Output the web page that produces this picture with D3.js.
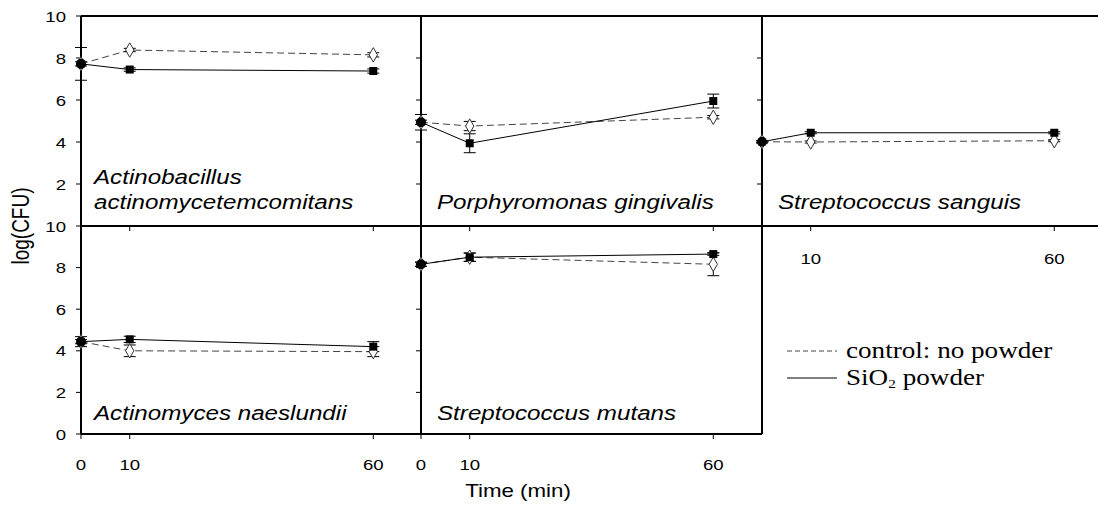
<!DOCTYPE html>
<html>
<head>
<meta charset="utf-8">
<script src="https://cdn.jsdelivr.net/npm/d3@7"></script>
<style>
  body { margin: 0; background: #fff; }
</style>
</head>
<body>
<div id="chart"></div>
<script>
// time points (min)
var times = [0, 10, 60];
// panel names (row-major: top row, then bottom row)
var species = [
  ["Actinobacillus", "actinomycetemcomitans"],
  ["Porphyromonas gingivalis"],
  ["Streptococcus sanguis"],
  ["Actinomyces naeslundii"],
  ["Streptococcus mutans"]
];
// control: no powder
var controlMean = [
  [7.72, 8.38, 8.15],
  [4.94, 4.76, 5.18],
  [4.01, 4.00, 4.06],
  [4.44, 4.00, 3.96],
  [8.16, 8.50, 8.16]
];
var controlErr = [
  [0.78, 0.08, 0.10],
  [0.37, 0.22, 0.08],
  [0.05, 0.05, 0.05],
  [0.24, 0.28, 0.24],
  [0.10, 0.20, 0.55]
];
// SiO2 powder
var silicaMean = [
  [7.72, 7.45, 7.38],
  [4.94, 3.94, 5.95],
  [4.01, 4.44, 4.44],
  [4.44, 4.55, 4.20],
  [8.16, 8.50, 8.65]
];
var silicaErr = [
  [0.10, 0.08, 0.10],
  [0.10, 0.45, 0.33],
  [0.05, 0.05, 0.05],
  [0.10, 0.15, 0.24],
  [0.10, 0.20, 0.06]
];
var yTicks = [0, 2, 4, 6, 8, 10];
var xTicks = [0, 10, 60];

var W = 1098, H = 505;
var colX = [81, 421, 762];
var rowY = [[16, 226], [226, 434]];
var panelW = 341;
var sans = "'Liberation Sans', Arial, sans-serif";
var serif = "'Liberation Serif', 'Times New Roman', serif";
var stretch = 1.24; // the picture is wider than it is tall

var svg = d3.select("#chart").append("svg")
  .attr("width", W).attr("height", H);

var xScale = d3.scaleLinear().domain([0, 70]).range([0, panelW]);

function yScaleFor(row) {
  return d3.scaleLinear().domain([0, 10]).range([rowY[row][1], rowY[row][0]]);
}

// text drawn with a horizontal stretch around its anchor
function label(parent, x, y, txt, size, anchor) {
  return parent.append("text")
    .attr("transform", "translate(" + x + "," + y + ") scale(" + stretch + ",1)")
    .attr("text-anchor", anchor || "start")
    .style("font-family", sans).style("font-size", size + "px")
    .text(txt);
}

// panel layout: [col,row]
var layout = [[0, 0], [1, 0], [2, 0], [0, 1], [1, 1]];

// y ticks on each panel left edge
layout.forEach(function (p, i) {
  var row = p[1], x0 = colX[p[0]];
  var y = yScaleFor(row);
  var ticks = yTicks.filter(function (t) { return !(row === 0 && t === 0); });
  svg.append("g").selectAll("line").data(ticks).enter().append("line")
    .attr("x1", x0 - 5).attr("x2", x0)
    .attr("y1", function (d) { return y(d); }).attr("y2", function (d) { return y(d); })
    .attr("stroke", "#000").attr("stroke-width", 1);
  if (p[0] === 0) {
    ticks.forEach(function (d) {
      label(svg, 66, y(d) + 5.5, d, 15, "end");
    });
  }
});

// x ticks
layout.forEach(function (p) {
  var x0 = colX[p[0]], yb = rowY[p[1]][1];
  var tks = p[1] === 0 ? xTicks.slice(1) : xTicks;
  svg.append("g").selectAll("line").data(tks).enter().append("line")
    .attr("x1", function (d) { return x0 + xScale(d); })
    .attr("x2", function (d) { return x0 + xScale(d); })
    .attr("y1", yb).attr("y2", yb + 5)
    .attr("stroke", "#000").attr("stroke-width", 1);
  if (p[1] === 1 || p[0] === 2) {
    var ly = p[1] === 1 ? 470 : 264;
    tks.forEach(function (d) {
      label(svg, x0 + xScale(d), ly, d, 15, "middle");
    });
  }
});

// frame lines
var frame = svg.append("g").attr("stroke", "#000").attr("stroke-width", 2).attr("fill", "none");
frame.append("line").attr("x1", 81).attr("x2", W).attr("y1", 16).attr("y2", 16);
frame.append("line").attr("x1", 81).attr("x2", W).attr("y1", 226).attr("y2", 226);
frame.append("line").attr("x1", 81).attr("x2", 762).attr("y1", 434).attr("y2", 434);
colX.forEach(function (x) {
  frame.append("line").attr("x1", x).attr("x2", x).attr("y1", 16).attr("y2", 434);
});

// series
var diamond = d3.symbol().type(d3.symbolDiamond).size(60);
var square = d3.symbol().type(d3.symbolSquare).size(64);
var circle = d3.symbol().type(d3.symbolCircle).size(80);

layout.forEach(function (p, i) {
  var x0 = colX[p[0]];
  var y = yScaleFor(p[1]);
  var g = svg.append("g").attr("transform", "translate(" + x0 + ",0)");
  var line = d3.line().x(function (d) { return xScale(d[0]); }).y(function (d) { return y(d[1]); });

  var ctrl = times.map(function (t, j) { return [t, controlMean[i][j], controlErr[i][j]]; });
  var sio = times.map(function (t, j) { return [t, silicaMean[i][j], silicaErr[i][j]]; });

  g.append("path").datum(ctrl).attr("d", line)
    .attr("fill", "none").attr("stroke", "#444").attr("stroke-width", 1)
    .attr("stroke-dasharray", "7,4");
  g.append("path").datum(sio).attr("d", line)
    .attr("fill", "none").attr("stroke", "#000").attr("stroke-width", 1);

  [ctrl, sio].forEach(function (s) {
    var eb = g.append("g").attr("stroke", "#000").attr("stroke-width", 1);
    s.forEach(function (d) {
      var cx = xScale(d[0]), lo = y(d[1] - d[2]), hi = y(d[1] + d[2]);
      eb.append("line").attr("x1", cx).attr("x2", cx).attr("y1", lo).attr("y2", hi);
      eb.append("line").attr("x1", cx - 6).attr("x2", cx + 6).attr("y1", lo).attr("y2", lo);
      eb.append("line").attr("x1", cx - 6).attr("x2", cx + 6).attr("y1", hi).attr("y2", hi);
    });
  });

  g.selectAll(".ctrl").data(ctrl).enter().append("path")
    .attr("transform", function (d) { return "translate(" + xScale(d[0]) + "," + y(d[1]) + ")"; })
    .attr("d", diamond).attr("fill", "#fff").attr("stroke", "#333").attr("stroke-width", 1);
  g.selectAll(".sio").data(sio).enter().append("path")
    .attr("transform", function (d) { return "translate(" + xScale(d[0]) + "," + y(d[1]) + ")"; })
    .attr("d", function (d) { return d[0] === 0 ? circle() : square(); })
    .attr("fill", "#000");

  // species label
  var names = species[i];
  var baseY = p[1] === 0 ? 209 : 420;
  names.forEach(function (n, k) {
    label(svg, x0 + (p[0] === 0 ? 13 : 16), baseY - (names.length - 1 - k) * 25, n, 19.5)
      .style("font-style", "italic");
  });
});

// axis titles
svg.append("text").attr("transform", "translate(29,226) rotate(-90) scale(1," + stretch + ")")
  .attr("text-anchor", "middle").style("font-family", sans).style("font-size", "19px")
  .text("log(CFU)");
label(svg, 518, 497, "Time (min)", 18, "middle");

// legend
var leg = svg.append("g");
leg.append("line").attr("x1", 787).attr("x2", 837).attr("y1", 351).attr("y2", 351)
  .attr("stroke", "#444").attr("stroke-dasharray", "5,3");
leg.append("text").attr("transform", "translate(846,358) scale(1.18,1)")
  .style("font-family", serif).style("font-size", "23px").text("control: no powder");
leg.append("line").attr("x1", 787).attr("x2", 837).attr("y1", 378).attr("y2", 378)
  .attr("stroke", "#000");
var t2 = leg.append("text").attr("transform", "translate(846,385) scale(1.18,1)")
  .style("font-family", serif).style("font-size", "23px");
t2.append("tspan").text("SiO");
t2.append("tspan").style("font-size", "13px").attr("dy", 3).text("2");
t2.append("tspan").attr("dy", -3).text(" powder");
</script>
</body>
</html>
